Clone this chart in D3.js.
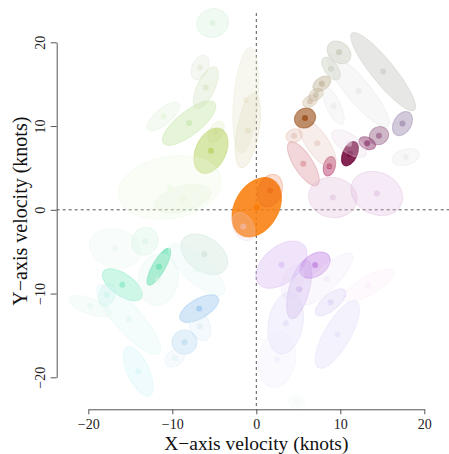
<!DOCTYPE html>
<html>
<head>
<meta charset="utf-8">
<script src="https://cdn.jsdelivr.net/npm/d3@7"></script>
<style>
  body { margin: 0; background: #fff; }
  svg { display: block; }
</style>
</head>
<body>
<div id="chart-area"></div>
<script>
// velocity ellipses (knots): centre, semi-axes, tilt in degrees
const velX = [0.05, 1.64, -1.55, 11.15, 8.7, 5.6, 7.26, 4.5, 5.8, 6.4, 7.1, 7.8, 8.9, 9.85, 15.1, 12.15, 9.2, 17.4, 14.6, 13.2, 11.05, 17.8, 9.1, 14.35,
  -5.2, -6.7, -6.0, -11.05, -8.0, -4.8, -5.4, -10.3, -8.75, -1.25, -1.0,
  -11.6, -15.95, -17.8, -15.2, -19.8, -16.8, -13.25, -11.7, -6.2, -7.1, -6.8, -6.7, -8.55, -9.7, -14.05,
  3.0, 7.0, 5.1, 4.3, 8.4, 13.35, 8.85, 3.5, 9.65, 2.45, 4.8];
const velY = [0.3, 2.3, -2.0, 6.7, 5.2, 5.5, 7.96, 8.85, 10.95, 12.95, 13.75, 15.05, 16.85, 18.8, 16.5, 14.2, 12.4, 10.3, 8.85, 7.95, 7.9, 6.3, 1.47, 1.95,
  22.3, 17.0, 14.6, 11.15, 10.35, 9.3, 7.05, 2.65, 1.3, 13.1, 9.45,
  -6.8, -8.95, -10.15, -13.1, -11.5, -4.6, -3.75, -8.35, -5.3, -7.15, -11.8, -13.9, -15.8, -17.7, -19.3,
  -6.55, -6.6, -9.5, -8.6, -8.25, -9.05, -11.05, -13.55, -14.9, -17.9, -22.9];
const semiMajor = [3.8, 2.0, 1.8, 1.55, 1.2, 3.05, 3.45, 1.0, 1.3, 0.95, 0.95, 1.2, 1.55, 1.55, 5.9, 5.5, 2.4, 1.55, 1.2, 1.05, 2.4, 1.65, 2.9, 3.2,
  1.9, 1.55, 2.7, 2.4, 3.9, 1.4, 2.85, 6.2, 3.45, 6.3, 4.5,
  2.5, 2.75, 1.4, 5.4, 2.65, 3.1, 1.7, 3.1, 3.1, 4.3, 2.6, 1.8, 1.5, 1.3, 3.2,
  3.55, 2.0, 3.6, 2.1, 4.2, 3.45, 2.25, 3.7, 4.55, 3.35, 1.0];
const semiMinor = [2.6, 1.4, 1.2, 0.85, 0.7, 1.1, 1.3, 0.8, 1.15, 0.65, 0.65, 0.75, 0.8, 1.2, 1.35, 1.4, 0.85, 1.05, 1.05, 0.7, 1.1, 0.95, 2.4, 2.5,
  1.7, 0.95, 1.05, 0.95, 1.4, 0.8, 1.8, 3.7, 1.5, 1.45, 1.3,
  0.75, 1.3, 0.95, 1.6, 0.95, 2.3, 1.55, 2.4, 2.0, 1.55, 1.15, 1.2, 1.45, 0.95, 1.3,
  2.15, 1.3, 1.2, 1.2, 1.3, 1.1, 0.95, 2.05, 1.55, 2.2, 0.8];
const tilt = [60, 70, -60, 65, 75, -57, -55, 20, 30, 30, 35, 35, -55, -40, -51, -50, -65, 60, 30, -25, -35, 15, -10, -25,
  20, 65, 65, 40, 38, 60, 65, 10, 15, 85, 80,
  60, -35, 70, -48, -20, -15, 60, 80, -35, -42, 30, -70, 0, 40, -65,
  40, 35, 75, 70, 45, 30, 40, 80, 60, 80, 0];

// outline colours as they look over white, and their alpha
const shade = ['#fa8a22', '#f6cdb8', '#f8eef4', '#801c4c', '#d48aa6', '#ecc8cb', '#f3e6e2', '#f2e0da', '#b8845e', '#e6dccf', '#e3dbcf', '#dcd4c4', '#e2e5dd', '#dfe1d8', '#e2e2e0', '#f3f3f3', '#f5f5f5', '#c8bdd2', '#c4a6bc', '#bc8aaa', '#f5f0f5', '#f5f5f5', '#f2e2ef', '#f1e2f1',
  '#ebf8ed', '#f1f5ec', '#ebf2e2', '#f1f9ed', '#e0f2d2', '#f2f6e6', '#d2e49c', '#f6fcf2', '#f4fbf0', '#f5f4ea', '#f2f0e2',
  '#84e6c0', '#c0f4e0', '#e4f9f4', '#f0fbfa', '#f2fbf8', '#f5fbf8', '#ecf9f2', '#f2fbf6', '#e6f2eb', '#f2fbf9', '#c8e0f6', '#eff6fb', '#dcecf8', '#f2f8fb', '#eafafb',
  '#ecdcf9', '#dcb8ee', '#e6d6f6', '#f7f2fc', '#f8f4fc', '#fcf7fc', '#eee8fa', '#f0eefb', '#f1effc', '#f7f7fd', '#f9fcfc'];
const alpha = [0.9, 0.3, 0.35, 0.9, 0.6, 0.4, 0.35, 0.45, 0.7, 0.5, 0.5, 0.55, 0.5, 0.5, 0.6, 0.35, 0.35, 0.55, 0.55, 0.6, 0.4, 0.4, 0.45, 0.4,
  0.4, 0.35, 0.45, 0.4, 0.55, 0.35, 0.65, 0.4, 0.4, 0.45, 0.4,
  0.65, 0.45, 0.4, 0.4, 0.4, 0.4, 0.45, 0.4, 0.45, 0.4, 0.5, 0.4, 0.45, 0.4, 0.45,
  0.5, 0.5, 0.45, 0.35, 0.4, 0.4, 0.45, 0.45, 0.45, 0.4, 0.3];

const xTicks = [-20, -10, 0, 10, 20];
const yTicks = [-20, -10, 0, 10, 20];

const svgWidth = 449, svgHeight = 454;
const font = '"Liberation Serif", "DejaVu Serif", serif';

const svg = d3.select("#chart-area")
  .append("svg")
    .attr("width", svgWidth)
    .attr("height", svgHeight);

const x = d3.scaleLinear().domain([-20, 20]).range([88.3, 424.3]);
const y = d3.scaleLinear().domain([-20, 20]).range([377.3, 42.3]);
const kx = x(1) - x(0);

const plotLeft = 56.7, plotBottom = 409.3, plotTop = 13;

// base colour that, at the given alpha over white, gives the seen shade
const toBase = (hex, a) => {
  const c = d3.rgb(hex);
  const f = v => Math.max(0, Math.min(255, 255 - (255 - v) / a));
  return d3.rgb(f(c.r), f(c.g), f(c.b)).formatHex();
}

// reference lines
svg.append("line")
  .attr("x1", x(0)).attr("x2", x(0))
  .attr("y1", plotTop).attr("y2", plotBottom)
  .attr("stroke", "#555").attr("stroke-dasharray", "3,3");
svg.append("line")
  .attr("x1", plotLeft).attr("x2", svgWidth)
  .attr("y1", y(0)).attr("y2", y(0))
  .attr("stroke", "#555").attr("stroke-dasharray", "3,3");

const data = velX.map((v, i) => ({
  vx: v, vy: velY[i], a: semiMajor[i], b: semiMinor[i], ang: tilt[i],
  col: toBase(shade[i], alpha[i]), op: alpha[i]
}));

const blobs = svg.append("g").selectAll("g")
  .data(data)
  .enter()
  .append("g")
    .attr("transform", d => `translate(${x(d.vx)},${y(d.vy)})`);

blobs.append("ellipse")
  .attr("rx", d => d.a * kx)
  .attr("ry", d => d.b * kx)
  .attr("transform", d => `rotate(${-d.ang})`)
  .attr("fill", d => d.col)
  .attr("fill-opacity", d => Math.pow(d.op, 1.35))
  .attr("stroke", d => d.col)
  .attr("stroke-opacity", d => d.op * 0.85)
  .attr("stroke-width", 1);

blobs.append("circle")
  .attr("r", 3)
  .attr("fill", d => d.col)
  .attr("fill-opacity", d => Math.min(1, d.op * 1.2));

// axes
const xAxis = svg.append("g")
  .attr("transform", `translate(0,${plotBottom})`)
  .call(d3.axisBottom(x).tickValues(xTicks).tickSize(5).tickSizeOuter(0)
    .tickFormat(d => d < 0 ? "\u2212" + Math.abs(d) : d));
xAxis.selectAll("path, line").attr("stroke", "#555");
xAxis.selectAll("text")
  .attr("y", 20).attr("dy", 0)
  .attr("fill", "#222")
  .attr("font-family", font)
  .attr("font-size", 14);

const yAxis = svg.append("g")
  .attr("transform", `translate(${plotLeft},0)`)
  .call(d3.axisLeft(y).tickValues(yTicks).tickSize(6).tickSizeOuter(0)
    .tickFormat(d => d < 0 ? "\u2212" + Math.abs(d) : d));
yAxis.selectAll("path, line").attr("stroke", "#555");
yAxis.selectAll("text")
  .attr("x", 0).attr("dy", 0)
  .attr("transform", "translate(-12,0) rotate(-90)")
  .attr("text-anchor", "middle")
  .attr("fill", "#222")
  .attr("font-family", font)
  .attr("font-size", 14);

svg.append("text")
  .text("X\u2212axis velocity (knots)")
  .attr("x", x(0))
  .attr("y", 450)
  .attr("text-anchor", "middle")
  .attr("fill", "#111")
  .attr("font-family", font)
  .attr("font-size", 19.5);

svg.append("text")
  .text("Y\u2212axis velocity (knots)")
  .attr("transform", `translate(26.5,${(plotTop + plotBottom) / 2}) rotate(-90)`)
  .attr("text-anchor", "middle")
  .attr("fill", "#111")
  .attr("font-family", font)
  .attr("font-size", 20);
</script>
</body>
</html>
